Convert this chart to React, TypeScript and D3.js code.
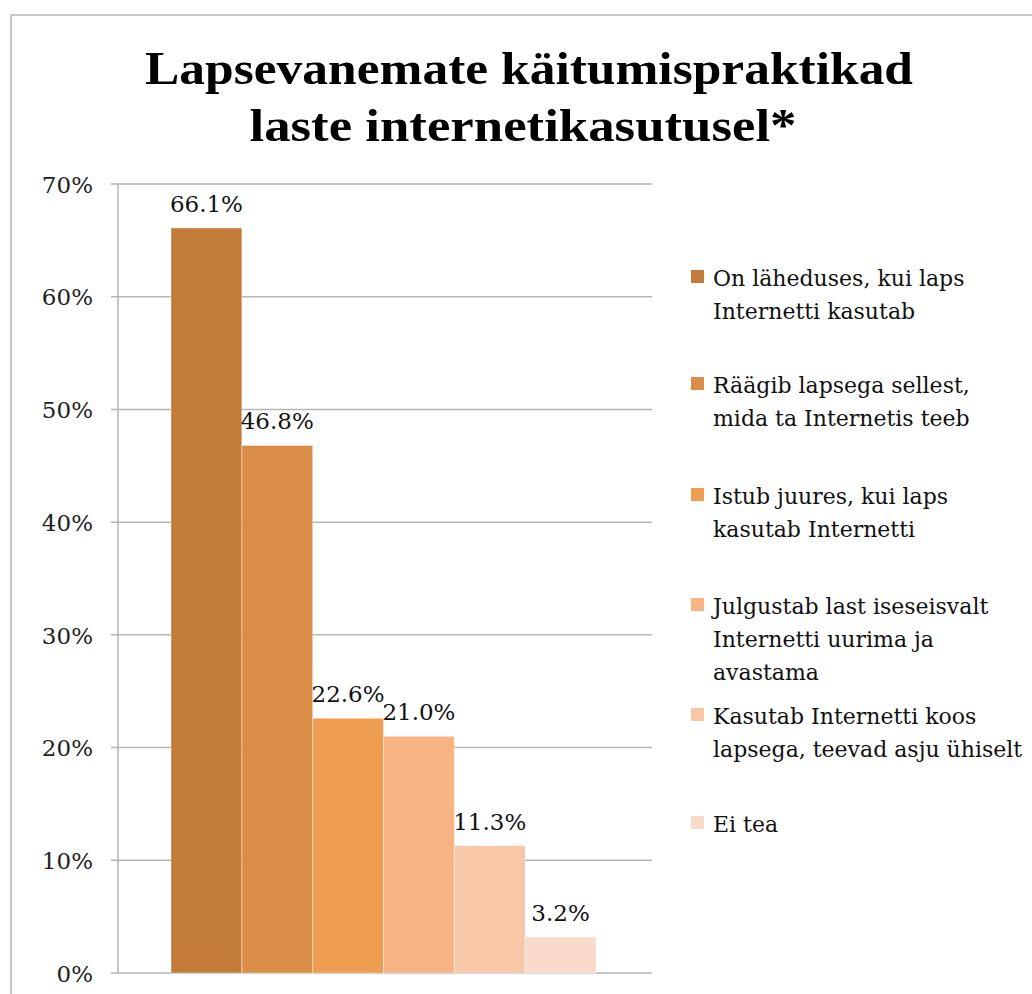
import React from "react";
import * as d3 from "d3";

const categories = [
  "On läheduses, kui laps Internetti kasutab",
  "Räägib lapsega sellest, mida ta Internetis teeb",
  "Istub juures, kui laps kasutab Internetti",
  "Julgustab last iseseisvalt Internetti uurima ja avastama",
  "Kasutab Internetti koos lapsega, teevad asju ühiselt",
  "Ei tea",
];
const legendLines = [
  ["On läheduses, kui laps", "Internetti kasutab"],
  ["Räägib lapsega sellest,", "mida ta Internetis teeb"],
  ["Istub juures, kui laps", "kasutab Internetti"],
  ["Julgustab last iseseisvalt", "Internetti uurima ja", "avastama"],
  ["Kasutab Internetti koos", "lapsega, teevad asju ühiselt"],
  ["Ei tea"],
];
const values = [66.1, 46.8, 22.6, 21.0, 11.3, 3.2];
const colors = ["#C27B38", "#DA8D46", "#EF9E51", "#F7B482", "#F7C7A8", "#FADACB"];
const yTicks = [0, 10, 20, 30, 40, 50, 60, 70];
const titleLines = ["Lapsevanemate käitumispraktikad", "laste internetikasutusel*"];

export default function App() {
  const W = 1032, H = 994;
  const plotLeft = 118, plotRight = 652, plotTop = 184, plotBottom = 973;
  const y = d3.scaleLinear().domain([0, 70]).range([plotBottom, plotTop]);
  const x = d3.scaleBand<string>().domain(categories).range([171, 596]).padding(0);
  const serif = "'DejaVu Serif', serif";
  const titleFont = "'Liberation Serif', serif";
  const legendY = [278, 385, 496, 606, 716, 824];
  return (
    <svg width={W} height={H} style={{ position: "absolute", left: 0, top: 0, background: "#fff" }} fontFamily={serif}>
      <rect x={0} y={0} width={W} height={H} fill="#fff" />
      <path d={`M11,${H} L11,15 L${W},15`} fill="none" stroke="#c8c8c8" strokeWidth={2} />
      <text x={529} y={84} textAnchor="middle" fontFamily={titleFont} fontWeight="bold" fontSize={46} textLength={768} lengthAdjust="spacingAndGlyphs">{titleLines[0]}</text>
      <text x={523} y={141} textAnchor="middle" fontFamily={titleFont} fontWeight="bold" fontSize={46} textLength={547} lengthAdjust="spacingAndGlyphs">{titleLines[1]}</text>
      {yTicks.map((t) => (
        <g key={t}>
          <line x1={111} x2={plotRight} y1={y(t)} y2={y(t)} stroke="#b5b5b5" strokeWidth={1.5} />
          <text x={93} y={y(t)} dy="0.38em" textAnchor="end" fontSize={23} fill="#222">{t}%</text>
        </g>
      ))}
      <line x1={plotLeft} x2={plotLeft} y1={plotTop} y2={plotBottom} stroke="#b5b5b5" strokeWidth={1.5} />
      {categories.map((c, i) => (
        <g key={c}>
          <rect x={x(c)!} y={y(values[i])} width={x.bandwidth()} height={plotBottom - y(values[i])} fill={colors[i]} stroke="rgba(255,255,255,0.4)" strokeWidth={1} />
          <text x={x(c)! + x.bandwidth() / 2} y={y(values[i]) - 16} textAnchor="middle" fontSize={23} fill="#111">{values[i].toFixed(1)}%</text>
        </g>
      ))}
      {legendLines.map((lines, i) => (
        <g key={i}>
          <rect x={691} y={legendY[i] - 8} width={13} height={13} fill={colors[i]} />
          {lines.map((l, j) => (
            <text key={j} x={713} y={legendY[i] + j * 33} dy="0.36em" fontSize={22} fill="#111">{l}</text>
          ))}
        </g>
      ))}
    </svg>
  );
}
